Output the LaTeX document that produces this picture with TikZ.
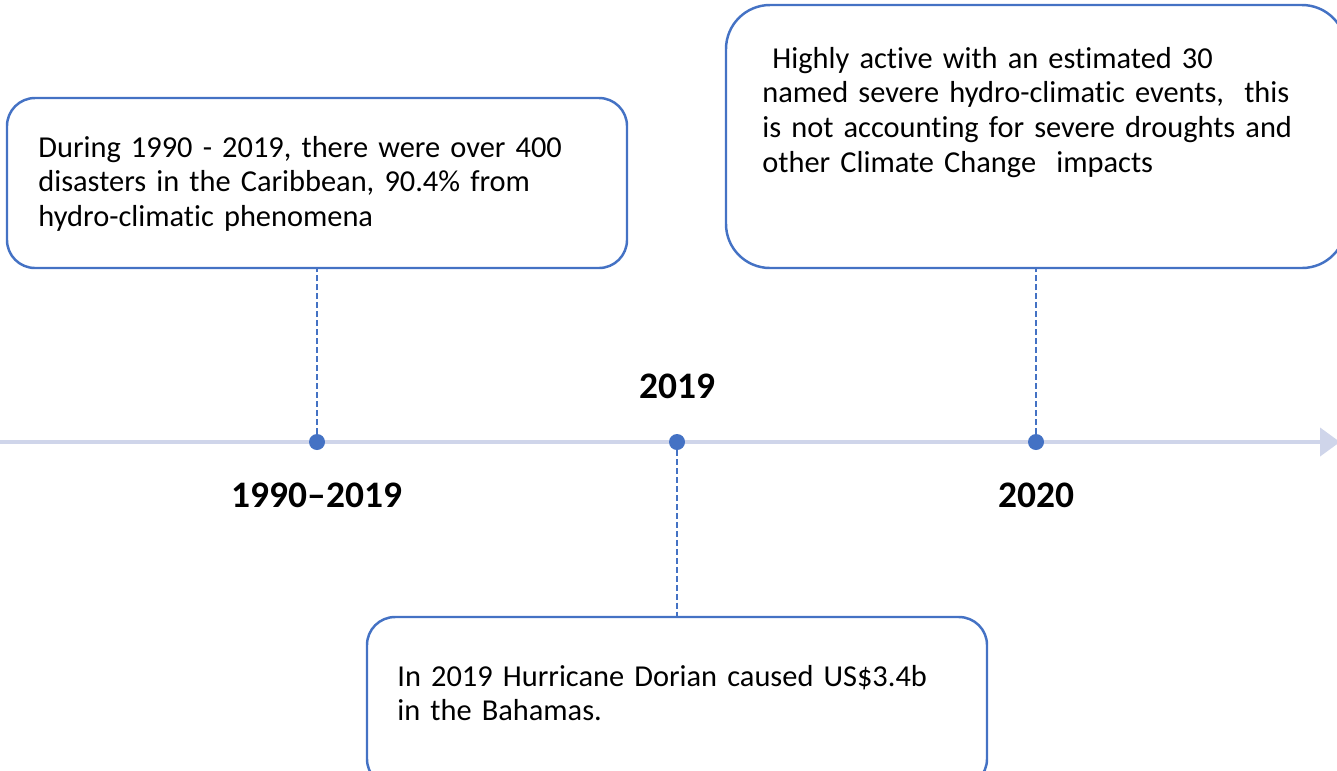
\documentclass[tikz,border=0pt]{standalone}
\usepackage{fontspec}
\setmainfont{Carlito}[Ligatures={TeX,NoCommon}]
\usetikzlibrary{arrows.meta}
\definecolor{dotblue}{RGB}{68, 114, 196}
\definecolor{axisgray}{RGB}{207, 213, 234}
\tikzset{
  eventbox/.style={rectangle, draw=dotblue, line width=1.4pt,
    minimum width=12.4cm, inner sep=0pt},
  eventtext/.style={anchor=base west, inner sep=0pt, text width=12cm,
    align=left, font=\fontsize{17.3}{19.9}\selectfont},
  yearlabel/.style={anchor=base, inner sep=0pt,
    font=\fontsize{21.3}{24}\selectfont\bfseries},
  yeardot/.style={circle, fill=dotblue, inner sep=0pt, minimum size=0.32cm},
  stem/.style={draw=dotblue, line width=0.7pt, dash pattern=on 3.4pt off 1.7pt},
  timeline/.style={draw=axisgray, line width=2.3pt,
    -{Triangle[length=0.4cm, width=0.56cm]}}
}
\begin{document}
\begin{tikzpicture}
\useasboundingbox (0,0) rectangle (26.74,-15.4);
\coordinate (tlstart) at (0,-8.84);
\coordinate (tlend)   at (26.8,-8.84);
\draw[timeline] (tlstart) -- (tlend);

\node (dotA) [yeardot] at (6.34,-8.84)  {};
\node (dotB) [yeardot] at (13.54,-8.84) {};
\node (dotC) [yeardot] at (20.72,-8.84) {};

\node (boxA) [eventbox, minimum height=3.4cm, rounded corners=0.56cm]  at (6.34,-3.66)   {};
\node (boxC) [eventbox, minimum height=5.26cm, rounded corners=0.88cm] at (20.72,-2.73)  {};
\node (boxB) [eventbox, minimum height=3.4cm, rounded corners=0.56cm]  at (13.54,-14.04) {};

\draw[stem] (dotA) -- (boxA.south);
\draw[stem] (dotC) -- (boxC.south);
\draw[stem] (dotB) -- (boxB.north);

\node (txtA) [eventtext] at (0.76,-3.14)
      {During 1990 - 2019, there were over 400\\
       disasters in the Caribbean, 90.4\% from\\
       hydro-climatic phenomena};
\node (txtC) [eventtext] at (15.24,-1.36)
      {\ Highly active with an estimated 30\\
       named severe hydro-climatic events,\ \ this\\
       is not accounting for severe droughts and\\
       other Climate Change\ \ impacts};
\node (txtB) [eventtext] at (7.94,-13.72)
      {In 2019 Hurricane Dorian caused US\$3.4b\\
       in the Bahamas.};

\node (yrA) [yearlabel] at (6.34,-10.14)  {1990--2019};
\node (yrB) [yearlabel] at (13.54,-7.96)  {2019};
\node (yrC) [yearlabel] at (20.72,-10.14) {2020};
\end{tikzpicture}
\end{document}
